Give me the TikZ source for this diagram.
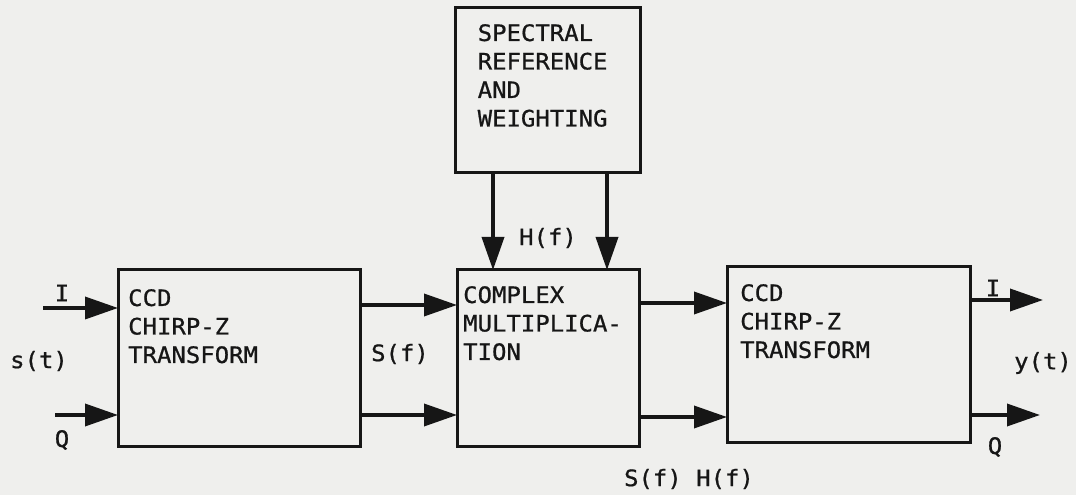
\documentclass[tikz,border=0pt]{standalone}
\usepackage{fontspec}
\setmonofont[FakeStretch=1.06,FakeBold=0.8]{DejaVu Sans Mono}
\usetikzlibrary{arrows.meta,positioning}
\definecolor{ink}{HTML}{161616}
\definecolor{paper}{HTML}{EFEFED}
\tikzset{
  block/.style={draw=ink,line width=3pt,inner sep=0pt,outer sep=0pt},
  blocktext/.style={font=\ttfamily\fontsize{22.6}{28.5}\selectfont,align=left,inner sep=0pt,anchor=north west,text=ink},
  sig/.style={font=\ttfamily\fontsize{22.6}{28.5}\selectfont,inner sep=0pt,text=ink},
  flow/.style={-{Triangle[length=33pt,width=22pt]},line width=3.6pt,draw=ink}
}
\begin{document}
\begin{tikzpicture}[x=1pt,y=1pt]
\fill[paper] (0,0) rectangle (1076,495);
\useasboundingbox (0,0) rectangle (1076,495);

% blocks
\node[block,minimum width=242pt,minimum height=177pt] (ccdin) at (239,136.5) {};
\node[block,minimum width=182pt,minimum height=177pt,right=97pt of ccdin] (mult) {};
\node[block,minimum width=243pt,minimum height=176pt,right=88pt of mult,yshift=3.5pt] (ccdout) {};
\node[block,minimum width=185pt,minimum height=165pt,above=97pt of mult] (spec) {};

\node[blocktext] (ccdin-t) at ([shift={(10,-19)}]ccdin.north west) {CCD\\CHIRP-Z\\TRANSFORM};
\node[blocktext] (mult-t) at ([shift={(6,-16)}]mult.north west) {COMPLEX\\MULTIPLICA-\\TION};
\node[blocktext] (ccdout-t) at ([shift={(13,-17)}]ccdout.north west) {CCD\\CHIRP-Z\\TRANSFORM};
\node[blocktext] (spec-t) at ([shift={(22,-16)}]spec.north west) {SPECTRAL\\REFERENCE\\AND\\WEIGHTING};

% inputs and outputs
\coordinate (iin) at (43,187);
\coordinate (qin) at (55,80);
\coordinate (iout) at (1043,195);
\coordinate (qout) at (1040,80);
\coordinate (hl) at ([xshift=-55pt]spec.south);
\coordinate (hr) at ([xshift=59pt]spec.south);

\draw[flow] (iin) -- (iin -| ccdin.west);
\draw[flow] (qin) -- (qin -| ccdin.west);
\draw[flow] ([yshift=53.5pt]ccdin.east) -- ([yshift=53.5pt]mult.west);
\draw[flow] ([yshift=-56.5pt]ccdin.east) -- ([yshift=-56.5pt]mult.west);
\draw[flow] ([yshift=55.5pt]mult.east) -- ([yshift=55.5pt]mult.east -| ccdout.west);
\draw[flow] ([yshift=-58.5pt]mult.east) -- ([yshift=-58.5pt]mult.east -| ccdout.west);
\draw[flow] (iout -| ccdout.east) -- (iout);
\draw[flow] (qout -| ccdout.east) -- (qout);
\draw[flow] (hl) -- (hl |- mult.north);
\draw[flow] (hr) -- (hr |- mult.north);

% signal labels
\node[sig] (lbl-iin) at (62,202) {I};
\node[sig] (lbl-qin) at (62,55) {Q};
\node[sig] (lbl-st) at (39,134) {s(t)};
\node[sig] (lbl-sf) at (400,141) {S(f)};
\node[sig] (lbl-hf) at (548,257) {H(f)};
\node[sig] (lbl-sfhf) at (689,16) {S(f) H(f)};
\node[sig] (lbl-iout) at (993,207) {I};
\node[sig] (lbl-qout) at (995,48) {Q};
\node[sig] (lbl-yt) at (1043,132) {y(t)};
\end{tikzpicture}
\end{document}
